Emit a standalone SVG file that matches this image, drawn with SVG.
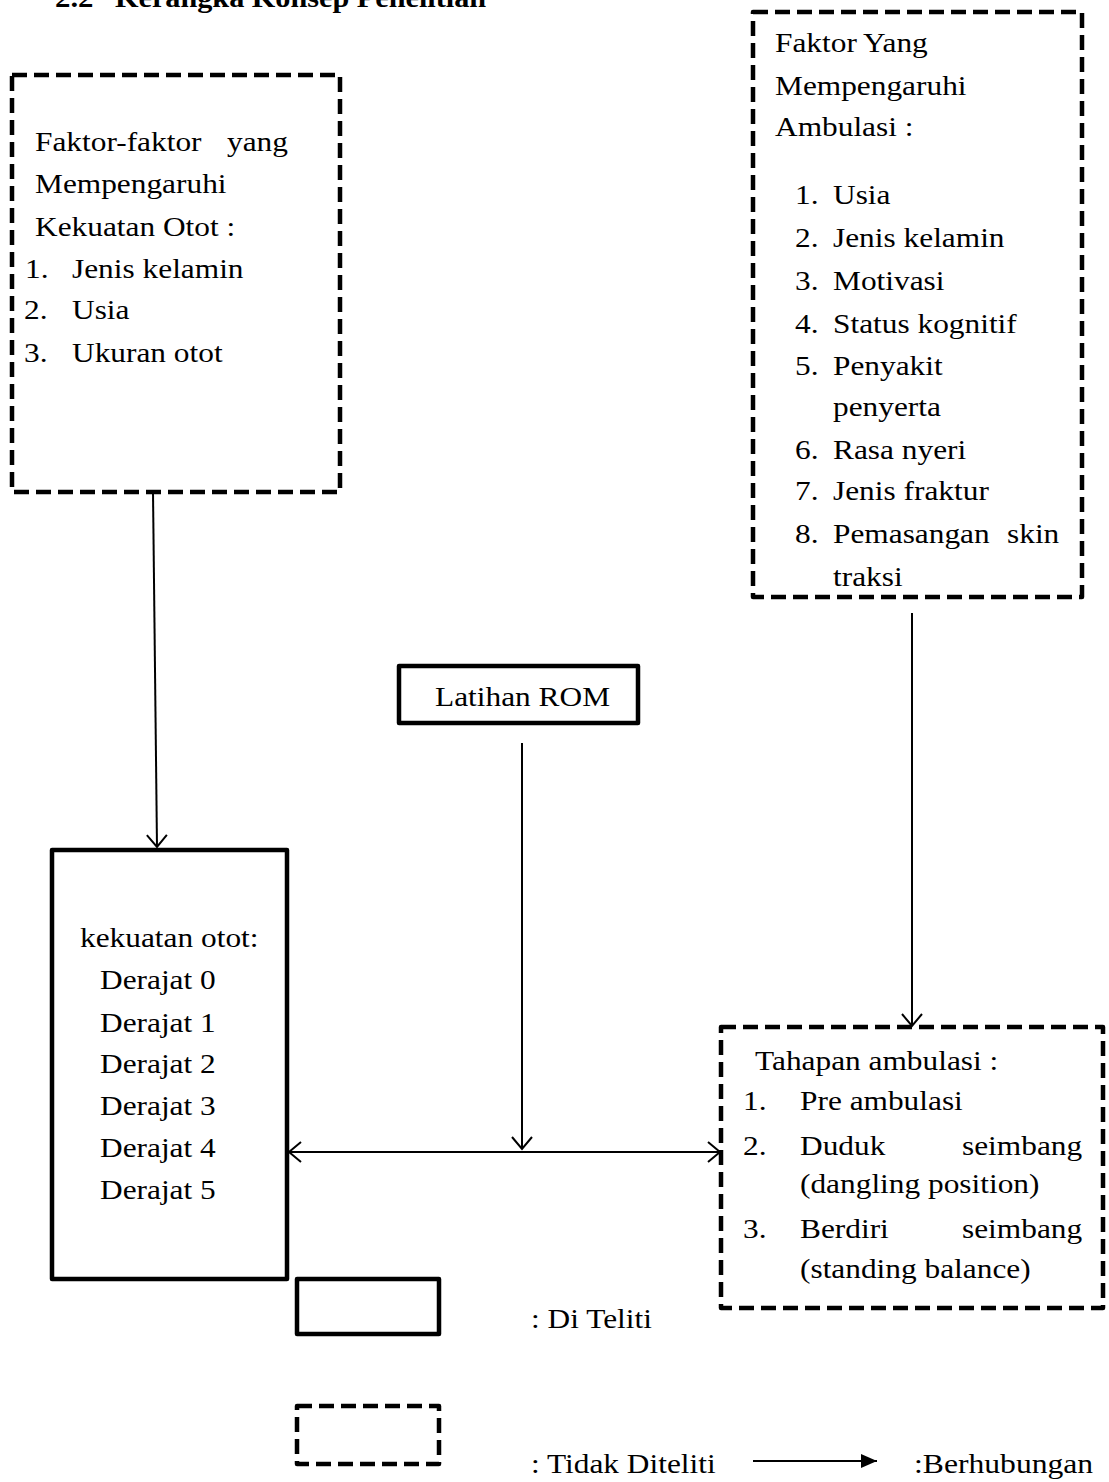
<svg xmlns="http://www.w3.org/2000/svg" width="1109" height="1482" viewBox="0 0 1109 1482">
<style>
.t{font-family:"Liberation Serif","Times New Roman",serif;font-size:28px;fill:#000}
.b{font-weight:bold}
.solid{fill:none;stroke:#000;stroke-width:4.5;stroke-linejoin:round}
.dash{fill:none;stroke:#000;stroke-width:4.5;stroke-dasharray:15 7;stroke-linejoin:round}
.conn{fill:none;stroke:#000;stroke-width:2}
</style>
<defs>
<marker id="open" markerUnits="userSpaceOnUse" viewBox="0 0 30 30" markerWidth="30" markerHeight="30" refX="15" refY="15" orient="auto-start-reverse">
<path d="M3,5 L15,15 L3,25" fill="none" stroke="#000" stroke-width="2"/>
</marker>
<marker id="solidhead" markerUnits="userSpaceOnUse" viewBox="0 0 20 20" markerWidth="20" markerHeight="20" refX="16" refY="10" orient="auto">
<path d="M0,3 L16,10 L0,17 Z" fill="#000"/>
</marker>
<clipPath id="clipTop"><rect x="740" y="0" width="369" height="591"/></clipPath>
</defs>
<rect width="1109" height="1482" fill="#fff"/>

<g id="title">
<text class="t b" transform="translate(55,7) scale(1.1,1)">2.2</text>
<text class="t b" transform="translate(115,7) scale(1.08,1)">Kerangka Konsep Penelitian</text>
</g>

<g id="faktor-kekuatan">
<rect class="dash" x="12" y="75" width="328" height="417"/>
<text class="t" transform="translate(35,151) scale(1.12,1)">Faktor-faktor</text>
<text class="t" transform="translate(227,151) scale(1.12,1)">yang</text>
<text class="t" transform="translate(35,193) scale(1.12,1)">Mempengaruhi</text>
<text class="t" transform="translate(35,236) scale(1.12,1)">Kekuatan Otot :</text>
<text class="t" transform="translate(25,278) scale(1.12,1)">1.</text>
<text class="t" transform="translate(72,278) scale(1.12,1)">Jenis kelamin</text>
<text class="t" transform="translate(24,319) scale(1.12,1)">2.</text>
<text class="t" transform="translate(72,319) scale(1.12,1)">Usia</text>
<text class="t" transform="translate(24,362) scale(1.12,1)">3.</text>
<text class="t" transform="translate(72,362) scale(1.12,1)">Ukuran otot</text>
</g>

<g id="faktor-ambulasi">
<rect class="dash" x="753" y="12" width="329" height="585"/>
<g clip-path="url(#clipTop)">
<text class="t" transform="translate(775,52) scale(1.12,1)">Faktor</text>
<text class="t" transform="translate(863,52) scale(1.12,1)">Yang</text>
<text class="t" transform="translate(775,95) scale(1.12,1)">Mempengaruhi</text>
<text class="t" transform="translate(775,136) scale(1.12,1)">Ambulasi :</text>
<text class="t" transform="translate(795,204) scale(1.12,1)">1.</text>
<text class="t" transform="translate(833,204) scale(1.12,1)">Usia</text>
<text class="t" transform="translate(795,247) scale(1.12,1)">2.</text>
<text class="t" transform="translate(833,247) scale(1.12,1)">Jenis kelamin</text>
<text class="t" transform="translate(795,290) scale(1.12,1)">3.</text>
<text class="t" transform="translate(833,290) scale(1.12,1)">Motivasi</text>
<text class="t" transform="translate(795,333) scale(1.12,1)">4.</text>
<text class="t" transform="translate(833,333) scale(1.12,1)">Status kognitif</text>
<text class="t" transform="translate(795,375) scale(1.12,1)">5.</text>
<text class="t" transform="translate(833,375) scale(1.12,1)">Penyakit</text>
<text class="t" transform="translate(833,416) scale(1.12,1)">penyerta</text>
<text class="t" transform="translate(795,459) scale(1.12,1)">6.</text>
<text class="t" transform="translate(833,459) scale(1.12,1)">Rasa nyeri</text>
<text class="t" transform="translate(795,500) scale(1.12,1)">7.</text>
<text class="t" transform="translate(833,500) scale(1.12,1)">Jenis fraktur</text>
<text class="t" transform="translate(795,543) scale(1.12,1)">8.</text>
<text class="t" transform="translate(833,543) scale(1.12,1)">Pemasangan</text>
<text class="t" transform="translate(1007,543) scale(1.12,1)">skin</text>
<text class="t" transform="translate(833,586) scale(1.12,1)">traksi</text>
</g>
</g>

<g id="latihan-rom">
<rect class="solid" x="399" y="666" width="239" height="57"/>
<text class="t" transform="translate(435,706) scale(1.12,1)">Latihan ROM</text>
</g>

<g id="kekuatan-otot">
<rect class="solid" x="52" y="850" width="235" height="429"/>
<text class="t" transform="translate(80,947) scale(1.12,1)">kekuatan otot:</text>
<text class="t" transform="translate(100,989) scale(1.12,1)">Derajat 0</text>
<text class="t" transform="translate(100,1032) scale(1.12,1)">Derajat 1</text>
<text class="t" transform="translate(100,1073) scale(1.12,1)">Derajat 2</text>
<text class="t" transform="translate(100,1115) scale(1.12,1)">Derajat 3</text>
<text class="t" transform="translate(100,1157) scale(1.12,1)">Derajat 4</text>
<text class="t" transform="translate(100,1199) scale(1.12,1)">Derajat 5</text>
</g>

<g id="tahapan-ambulasi">
<rect class="dash" x="721" y="1027" width="382" height="281"/>
<text class="t" transform="translate(755,1070) scale(1.12,1)">Tahapan ambulasi :</text>
<text class="t" transform="translate(743,1110) scale(1.12,1)">1.</text>
<text class="t" transform="translate(800,1110) scale(1.12,1)">Pre ambulasi</text>
<text class="t" transform="translate(743,1155) scale(1.12,1)">2.</text>
<text class="t" transform="translate(800,1155) scale(1.12,1)">Duduk</text>
<text class="t" transform="translate(962,1155) scale(1.12,1)">seimbang</text>
<text class="t" transform="translate(800,1193) scale(1.12,1)">(dangling position)</text>
<text class="t" transform="translate(743,1238) scale(1.12,1)">3.</text>
<text class="t" transform="translate(800,1238) scale(1.12,1)">Berdiri</text>
<text class="t" transform="translate(962,1238) scale(1.12,1)">seimbang</text>
<text class="t" transform="translate(800,1278) scale(1.12,1)">(standing balance)</text>
</g>

<g id="connectors">
<line class="conn" x1="153" y1="492" x2="157" y2="847" marker-end="url(#open)"/>
<line class="conn" x1="912" y1="613" x2="912" y2="1026" marker-end="url(#open)"/>
<line class="conn" x1="522" y1="743" x2="522" y2="1149" marker-end="url(#open)"/>
<line class="conn" x1="289" y1="1152" x2="720" y2="1152" marker-start="url(#open)" marker-end="url(#open)"/>
</g>

<g id="legend">
<rect class="solid" x="297" y="1279" width="142" height="55"/>
<text class="t" transform="translate(531,1328) scale(1.12,1)">: Di Teliti</text>
<rect class="dash" x="297" y="1406" width="142" height="58"/>
<text class="t" transform="translate(531,1473) scale(1.12,1)">: Tidak Diteliti</text>
<line class="conn" x1="753" y1="1461" x2="877" y2="1461" marker-end="url(#solidhead)"/>
<text class="t" transform="translate(914,1473) scale(1.13,1)">:Berhubungan</text>
</g>
</svg>
